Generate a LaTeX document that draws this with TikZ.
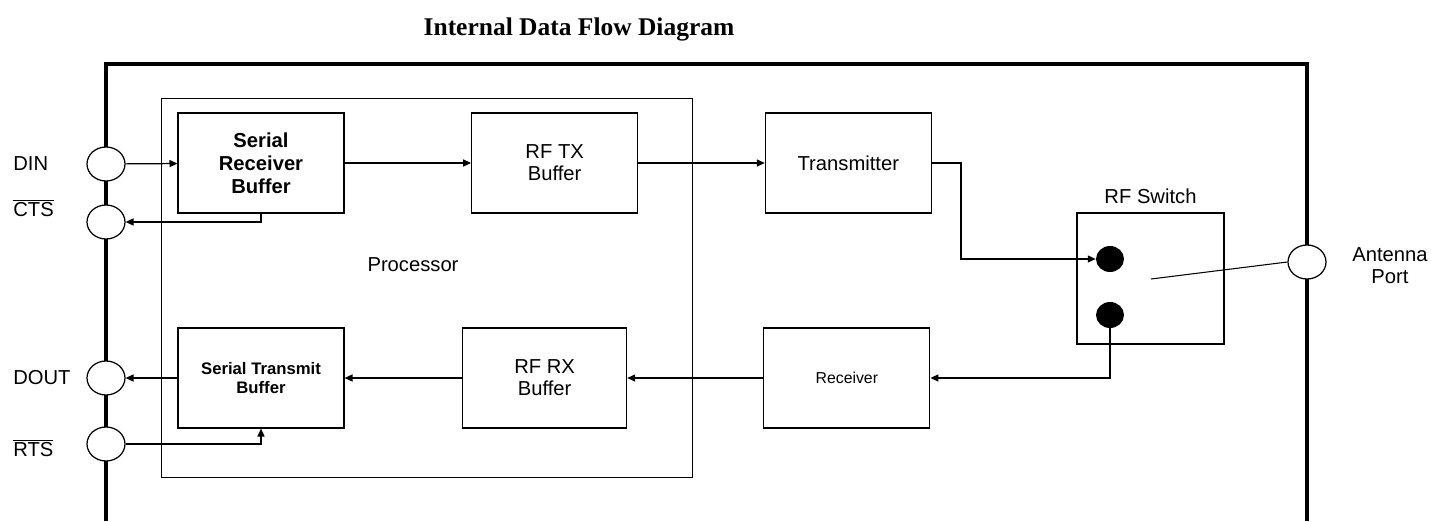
\documentclass[tikz,border=0pt]{standalone}
\usepackage{fontspec}
\setmainfont{Liberation Sans}
\newfontfamily\titlefont{Liberation Serif}
\usetikzlibrary{positioning,shapes.geometric,arrows.meta}
\tikzset{
blk/.style={draw,line width=0.7pt,minimum width=3.32cm,minimum height=2cm,inner sep=0pt,align=center,font=\fontsize{11.5}{12.5}\selectfont},
port/.style={draw,fill=white,ellipse,line width=0.7pt,minimum width=0.76cm,minimum height=0.68cm,inner sep=0pt},
dot/.style={fill=black,ellipse,minimum width=0.56cm,minimum height=0.52cm,inner sep=0pt},
sig/.style={line width=0.7pt,-{Triangle[length=4.5pt,width=4pt]}},
lbl/.style={font=\fontsize{11.5}{12.5}\selectfont,inner sep=0pt}
}
\begin{document}
\begin{tikzpicture}[x=0.02cm,y=-0.02cm]
\useasboundingbox (0,0) rectangle (1431,521);
\node[font=\titlefont\bfseries\fontsize{14.5}{16}\selectfont] (title) at (579,29) {Internal Data Flow Diagram};
\draw[line width=2.4pt] (106,521) |- (1307,64) -- (1307,521);
\node[draw,line width=0.6pt,minimum width=10.64cm,minimum height=7.6cm] (proc) at (427,288) {};
\node[lbl] (procl) at (413,265) {Processor};
\node[blk,font=\bfseries\fontsize{11.5}{13}\selectfont] (srb) at (261,163) {Serial\\Receiver\\Buffer};
\node[blk,right=2.53cm of srb] (rftx) {RF TX\\Buffer};
\node[blk,right=2.53cm of rftx] (tx) {Transmitter};
\node[blk,font=\bfseries\fontsize{9.5}{11.3}\selectfont] (stb) at (261,378) {Serial Transmit\\Buffer};
\node[blk,minimum width=3.28cm,right=2.35cm of stb] (rfrx) {RF RX\\Buffer};
\node[blk,font=\fontsize{9}{11}\selectfont,right=2.72cm of rfrx] (rx) {Receiver};
\node[draw,line width=0.7pt,minimum width=2.94cm,minimum height=2.62cm] (sw) at (1150.5,278.5) {};
\node[lbl,above=0.17cm of sw] (swl) {RF Switch};
\node[dot] (d1) at (1110,259) {};
\node[dot] (d2) at (1110,315) {};
\node[port] (din) at (106,164) {};
\node[port] (cts) at (106,222) {};
\node[port] (dout) at (106,378) {};
\node[port] (rts) at (106,444) {};
\node[port] (ant) at (1307,262) {};
\node[lbl,anchor=west] (dinl) at (13,164) {DIN};
\node[lbl,anchor=west] (ctsl) at (13,208) {$\overline{\hbox{CTS}}$};
\node[lbl,anchor=west] (doutl) at (13,378) {DOUT};
\node[lbl,anchor=west] (rtsl) at (13,448) {$\overline{\hbox{RTS}}$};
\node[lbl,align=center] (antl) at (1390,266) {Antenna\\Port};
\coordinate (arm) at (1151,279);
\draw[line width=0.6pt] (arm) -- (ant.west);
\draw[sig] (din) -- (srb);
\draw[sig] (srb.south) |- (cts.east);
\draw[sig] (srb) -- (rftx);
\draw[sig] (rftx) -- (tx);
\draw[sig] (tx.east) -- ++(29,0) |- (d1.west);
\draw[sig] (d2.south) |- (rx.east);
\draw[sig] (rx) -- (rfrx);
\draw[sig] (rfrx) -- (stb);
\draw[sig] (stb) -- (dout);
\draw[sig] (rts.east) -| (stb.south);
\end{tikzpicture}
\end{document}
